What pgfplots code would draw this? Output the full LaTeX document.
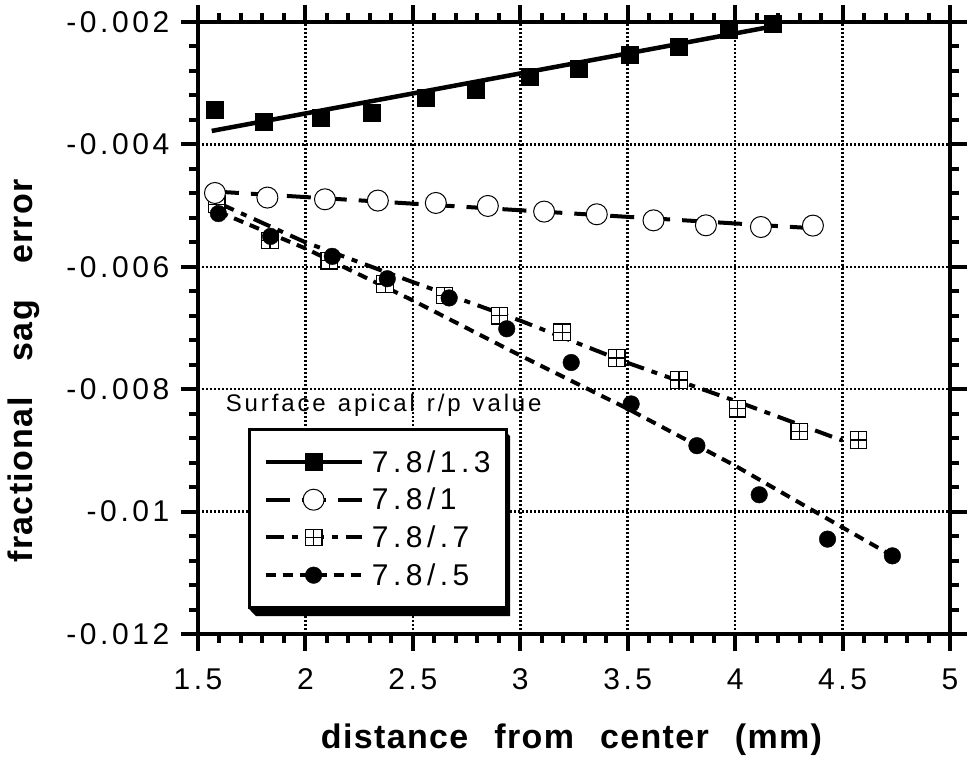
\documentclass[border=0pt]{standalone}
\usepackage{fontspec}
\setmainfont{Liberation Sans}
\newfontfamily\tickfont[LetterSpace=12]{Liberation Sans}
\newfontfamily\legfont[LetterSpace=15]{Liberation Sans}
\newfontfamily\titlefont[LetterSpace=12]{Liberation Sans}
\newfontfamily\labfont[LetterSpace=4]{Liberation Sans}
\usepackage{pgfplots}
\pgfplotsset{compat=1.18}

% open square with a cross inside
\pgfdeclareplotmark{gridsq}{%
  \pgfpathrectangle{\pgfpoint{-\pgfplotmarksize}{-\pgfplotmarksize}}{\pgfpoint{2\pgfplotmarksize}{2\pgfplotmarksize}}%
  \pgfusepathqfillstroke
  \pgfpathmoveto{\pgfpoint{-\pgfplotmarksize}{0pt}}\pgfpathlineto{\pgfpoint{\pgfplotmarksize}{0pt}}%
  \pgfpathmoveto{\pgfpoint{0pt}{-\pgfplotmarksize}}\pgfpathlineto{\pgfpoint{0pt}{\pgfplotmarksize}}%
  \pgfusepathqstroke}

\begin{document}
\begin{tikzpicture}
\useasboundingbox (-198pt,-128pt) rectangle (772pt,634pt);
\begin{axis}[
  at={(0pt,0pt)}, anchor=south west,
  scale only axis, width=752pt, height=612pt,
  xmin=1.5, xmax=5, ymin=-0.012, ymax=-0.002,
  xtick={1.5,2,2.5,3,3.5,4,4.5,5},
  xticklabels={1.5,2,2.5,3,3.5,4,4.5,5},
  ytick={-0.012,-0.01,-0.008,-0.006,-0.004,-0.002},
  yticklabels={-0.012,-0.01,-0.008,-0.006,-0.004,-0.002},
  scaled y ticks=false,
  minor x tick num=4, minor y tick num=4,
  tick align=outside,
  major tick length=17pt, minor tick length=9pt,
  tick style={line width=4pt, black},
  axis line style={line width=4.5pt},
  grid=major,
  major grid style={line width=2.5pt, black, dash pattern=on 2pt off 2pt},
  xticklabel style={font=\tickfont\fontsize{30}{30}\selectfont},
  yticklabel style={font=\tickfont\fontsize{30}{30}\selectfont},
  xticklabel shift=14pt, yticklabel shift=8pt,
  xlabel={distance\hspace{26pt}from\hspace{26pt}center\hspace{26pt}(mm)},
  ylabel={fractional\hspace{36pt}sag\hspace{36pt}error},
  xlabel style={font=\labfont\bfseries\fontsize{34}{34}\selectfont,
    at={(axis description cs:0.4967,-0.173)}, anchor=center},
  ylabel style={font=\labfont\bfseries\fontsize{34}{34}\selectfont,
    at={(axis description cs:-0.2314,0.43)}, anchor=center},
  clip=false,
  legend image code/.code={\draw[mark repeat=2,mark phase=2,#1]
    plot coordinates {(0pt,0pt) (48pt,0pt) (96pt,0pt)};},
  legend style={at={(axis description cs:0.0665,0.3366)}, anchor=north west,
    draw=black, line width=2.7pt, fill=white,
    font=\legfont\fontsize{30}{30}\selectfont,
    inner xsep=14pt, inner ysep=19pt, row sep=10.5pt, column sep=6pt,
    nodes={inner sep=2pt}},
  legend cell align=left,
]
% shadow of the legend box
\fill[black] (rel axis cs:0.4043,0.3366) -- (rel axis cs:0.4149,0.3235)
  -- (rel axis cs:0.4149,0.0294) -- (rel axis cs:0.0771,0.0294)
  -- (rel axis cs:0.0665,0.0425) -- (rel axis cs:0.4043,0.0425) -- cycle;
% fitted lines
\addplot[forget plot, line width=4.5pt] coordinates {(1.564,-0.00378) (4.209,-0.00205)};
\addplot[forget plot, line width=4pt, dash pattern=on 24pt off 12pt] coordinates {(1.579,-0.00477) (4.362,-0.00537)};
\addplot[forget plot, line width=4pt, dash pattern=on 18pt off 8pt on 6pt off 8pt] coordinates {
  (1.59,-0.00495) (2.0,-0.0056) (2.5,-0.00625) (3.0,-0.00688) (3.5,-0.00757) (4.0,-0.00819) (4.5,-0.00884)};
\addplot[forget plot, line width=4pt, dash pattern=on 10pt off 7pt] coordinates {
  (1.595,-0.0051) (2.0,-0.0057) (2.5,-0.00655) (3.0,-0.00745) (3.5,-0.00832) (4.0,-0.00925) (4.5,-0.01026) (4.73,-0.01072)};
% measured points
\addplot[forget plot, only marks, mark=square*, mark size=8.5pt] coordinates {
  (1.576,-0.00344) (1.804,-0.00363) (2.073,-0.00357) (2.309,-0.00349)
  (2.561,-0.00324) (2.794,-0.00310) (3.042,-0.00290) (3.270,-0.00276)
  (3.511,-0.00254) (3.736,-0.00241) (3.969,-0.00213) (4.174,-0.00202)};
\addplot[forget plot, only marks, mark=gridsq, mark size=8.3pt, mark options={fill=white, draw=black, line width=1.2pt}] coordinates {
  (1.587,-0.00498) (1.835,-0.00557) (2.111,-0.00590) (2.371,-0.00628)
  (2.647,-0.00647) (2.903,-0.00680) (3.195,-0.00707) (3.449,-0.00749)
  (3.739,-0.00785) (4.011,-0.00832) (4.299,-0.00869) (4.574,-0.00883)};
\addplot[forget plot, only marks, mark=*, mark size=10.5pt, mark options={fill=white, draw=black, line width=1pt}] coordinates {
  (1.579,-0.004794) (1.823,-0.004869) (2.091,-0.004897) (2.337,-0.004918)
  (2.607,-0.004957) (2.849,-0.005006) (3.111,-0.005098) (3.356,-0.005142)
  (3.620,-0.005241) (3.864,-0.005322) (4.120,-0.005350) (4.362,-0.005327)};
\addplot[forget plot, only marks, mark=*, mark size=8.3pt] coordinates {
  (1.595,-0.005131) (1.838,-0.005503) (2.125,-0.005830) (2.381,-0.006195)
  (2.669,-0.006509) (2.937,-0.007013) (3.237,-0.007564) (3.516,-0.008241)
  (3.822,-0.008923) (4.112,-0.009725) (4.430,-0.010450) (4.732,-0.010723)};
% legend
\addlegendimage{line width=4.5pt, mark=square*, mark size=8.5pt, mark options={solid, line width=0.4pt}}
\addlegendentry{7.8/1.3}
\addlegendimage{line width=4pt, dash pattern=on 24pt off 12pt, mark=*, mark size=10.5pt, mark options={solid, fill=white, draw=black, line width=1pt}}
\addlegendentry{7.8/1}
\addlegendimage{line width=4pt, dash pattern=on 18pt off 8pt on 6pt off 8pt, mark=gridsq, mark size=8.3pt, mark options={solid, fill=white, draw=black, line width=1.2pt}}
\addlegendentry{7.8/.7}
\addlegendimage{line width=4pt, dash pattern=on 10pt off 7pt, mark=*, mark size=8.3pt, mark options={solid, line width=0.4pt}}
\addlegendentry{7.8/.5}
\node[font=\titlefont\fontsize{24}{24}\selectfont] at (rel axis cs:0.247,0.374)
  {Surface\hspace{12pt}apical\hspace{12pt}r/p\hspace{12pt}value};
\end{axis}
\end{tikzpicture}
\end{document}
